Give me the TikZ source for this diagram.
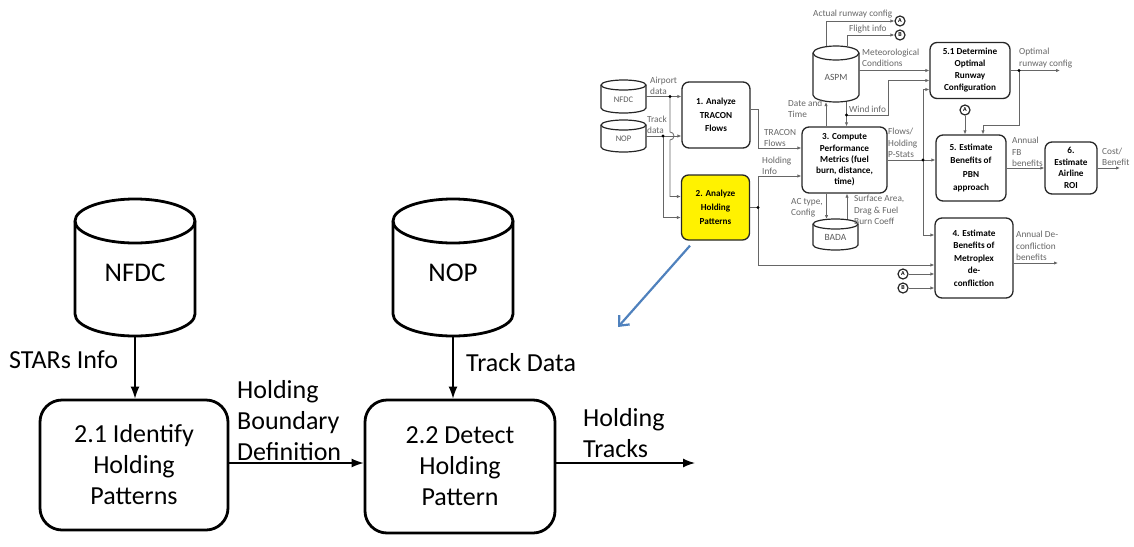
\documentclass[tikz,border=0pt]{standalone}
\usepackage{fontspec}
\setmainfont{Carlito}
\usetikzlibrary{arrows.meta}
\definecolor{officeblue}{HTML}{4F81BD}
\newcommand\cylpath[4][]{%
  \draw[#1] ([yshift=-#4]#2.north west) -- ([yshift=#4]#2.south west)
    arc[start angle=180,end angle=360,x radius=#3,y radius=#4]
    -- ([yshift=-#4]#2.north east)
    arc[start angle=0,end angle=180,x radius=#3,y radius=#4] -- cycle;
  \draw[#1] ([yshift=-#4]#2.north west)
    arc[start angle=180,end angle=360,x radius=#3,y radius=#4];}
\begin{document}
\begin{tikzpicture}[x=1pt,y=-1pt,
  bigbox/.style={draw, line width=2.8pt, rounded corners=22pt, inner sep=0, align=center, font=\fontsize{26}{31}\selectfont},
  bigcyl/.style={inner sep=0, outer sep=0, minimum width=120pt, minimum height=137pt},
  bigarr/.style={line width=1.4pt, -{Latex[length=12pt,width=9pt]}},
  biglab/.style={inner sep=0, align=left, font=\fontsize{26}{31}\selectfont},
  sbox/.style={draw=black!85, line width=1.3pt, rounded corners=7pt, inner sep=0, align=center},
  sbf/.style={font=\fontsize{9.2}{#1}\selectfont\bfseries},
  scyl/.style={inner sep=0, outer sep=0},
  sarr/.style={draw=black!60, line width=0.8pt, -{Latex[length=4pt,width=3.4pt]}},
  sline/.style={draw=black!60, line width=0.8pt},
  slab/.style={inner sep=0, align=left, text=black!60, font=\fontsize{9.3}{11.5}\selectfont},
  sdot/.style={fill=black},
  scirc/.style={circle, draw=black!85, line width=1.2pt, inner sep=0, minimum size=10pt, font=\fontsize{6}{6}\selectfont\bfseries},
]
\useasboundingbox (0,0) rectangle (1134,546);

% ---------- big diagram ----------
\node[bigcyl, label={[font=\fontsize{27}{30}\selectfont, yshift=-5pt]center:NFDC}] (nfdc) at (135,267.5) {};
\node[bigcyl, label={[font=\fontsize{27}{30}\selectfont, yshift=-5pt]center:NOP}] (nop) at (453,267.5) {};
\cylpath[line width=2.8pt, line join=round]{nfdc}{60pt}{22pt}
\cylpath[line width=2.8pt, line join=round]{nop}{60pt}{22pt}

\node[bigbox, minimum width=188pt, minimum height=130pt] (b21) at (134,465) {2.1 Identify\\Holding\\Patterns};
\node[bigbox, minimum width=190pt, minimum height=133pt] (b22) at (460,466.5) {2.2 Detect\\Holding\\Pattern};

\draw[bigarr] (nfdc.south) -- (nfdc.south |- b21.north);
\draw[bigarr] (nop.south) -- (nop.south |- b22.north);
\draw[bigarr] ([yshift=2pt]b21.east) -- ([yshift=2pt]b21.east -| b22.west);
\coordinate (bigout) at (695,463);
\draw[bigarr] (b22.east |- bigout) -- (bigout);

\node[biglab, anchor=west] (lstars) at (9,360) {STARs Info};
\node[biglab, anchor=west] (ltrack) at (466,363) {Track Data};
\node[biglab, anchor=west] (lhbd) at (237,421) {Holding\\Boundary\\Definition};
\node[biglab, anchor=west] (lht) at (583,433) {Holding\\Tracks};

% ---------- small diagram ----------
\node[scyl, minimum width=45pt, minimum height=33pt, label={[font=\fontsize{8.5}{9}\selectfont, text=black!65, yshift=-3pt]center:NFDC}] (snfdc) at (623.5,96.5) {};
\node[scyl, minimum width=45pt, minimum height=32pt, label={[font=\fontsize{8.5}{9}\selectfont, text=black!65, yshift=-3pt]center:NOP}] (snop) at (623.5,136) {};
\node[scyl, minimum width=46pt, minimum height=56pt, label={[font=\fontsize{9.5}{10}\selectfont, text=black!65, yshift=-3pt]center:ASPM}] (aspm) at (836,74) {};
\node[scyl, minimum width=45pt, minimum height=31pt, label={[font=\fontsize{9.5}{10}\selectfont, text=black!65, yshift=-3pt]center:BADA}] (bada) at (835.5,234.5) {};
\cylpath[draw=black!85, line width=1.2pt, line join=round]{snfdc}{22.5pt}{5pt}
\cylpath[draw=black!85, line width=1.2pt, line join=round]{snop}{22.5pt}{5pt}
\cylpath[draw=black!85, line width=1.2pt, line join=round]{aspm}{23pt}{7pt}
\cylpath[draw=black!85, line width=1.2pt, line join=round]{bada}{22.5pt}{5pt}

\node[sbox, sbf=13.5, minimum width=68pt, minimum height=66pt] (b1) at (716,115) {1. Analyze\\TRACON\\Flows};
\node[sbox, sbf=14, fill=yellow, minimum width=68pt, minimum height=65pt] (b2) at (715.5,207.5) {2. Analyze\\Holding\\Patterns};
\node[sbox, sbf=11.2, minimum width=85pt, minimum height=66pt] (b3) at (844.5,160) {3. Compute\\Performance\\Metrics (fuel\\burn, distance,\\time)};
\node[sbox, sbf=12, minimum width=80pt, minimum height=56pt] (b51) at (970,70.5) {5.1 Determine\\Optimal\\Runway\\Configuration};
\node[sbox, sbf=13.5, minimum width=70pt, minimum height=66pt] (b5) at (971,168) {5. Estimate\\Benefits of\\PBN\\approach};
\node[sbox, sbf=11.5, minimum width=52pt, minimum height=52pt] (b6) at (1071,168) {6.\\Estimate\\Airline\\ROI};
\node[sbox, sbf=12.5, minimum width=78pt, minimum height=80pt] (b4) at (974,258) {4. Estimate\\Benefits of\\Metroplex\\de-\\confliction};

\node[scirc] (cA1) at (900,21) {A};
\node[scirc] (cB1) at (900,35) {B};
\node[scirc] (cA3) at (965,110) {A};
\node[scirc] (cA2) at (903,274) {A};
\node[scirc] (cB2) at (903,288) {B};

% inputs to box 1 and box 2
\coordinate (d1) at (670,96.5);
\coordinate (d2) at (663,136);
\draw[sarr] (snfdc.east) -- (snfdc.east -| b1.west);
\draw[sarr] (snop.east) -- (snop.east -| b1.west);
\draw[sarr] (d1) -- (670,132) arc[start angle=90,end angle=-90,radius=4pt] |- ([yshift=11pt]b2.west);
\draw[sarr] (d2) |- ([yshift=-10pt]b2.west);

% box 1 -> box 3
\draw[sarr] ([yshift=6pt]b1.east) -- (758,109) |- ([yshift=12pt]b3.west);
% box 2 -> box 3, box 4
\coordinate (d3) at (758,207.5);
\draw[sline] (b2.east) -- (d3);
\draw[sarr] (d3) |- ([yshift=-16pt]b3.west);
\draw[sarr] (d3) |- ([yshift=-7pt]b4.west);

% ASPM
\draw[sarr] ([xshift=-18.5pt]b3.north) -- ([xshift=-18.5pt]b3.north |- aspm.south);
\draw[sarr] ([xshift=2pt]b3.north |- aspm.south) -- ([xshift=2pt]b3.north);
\coordinate (d4) at (846.5,115);
\draw[sarr] (d4) -- (888,115) |- ([yshift=-10pt]b51.west);
\draw[sarr] (aspm.east |- b51.west) -- (b51.west);
\draw[sarr] ([xshift=-10pt]aspm.north) |- (cA1.west);
\draw[sarr] ([xshift=11pt]aspm.north) |- (cB1.west);

% BADA
\draw[sarr] ([xshift=-18pt]b3.south) -- ([xshift=-18pt]b3.south |- bada.north);
\draw[sarr] ([xshift=2.5pt]b3.south |- bada.north) -- ([xshift=2.5pt]b3.south);

% flows / holding p-stats
\coordinate (d5) at (923,160);
\draw[sarr] (b3.east) -- (b3.east -| b5.west);
\draw[sarr] (d5) |- ([yshift=-19pt]b51.west);
\draw[sarr] (d5) |- ([yshift=23pt]b4.west);

% box 4 circles
\draw[sarr] (cA2.east) -- (cA2.east -| b4.west);
\draw[sarr] (cB2.east) -- (cB2.east -| b4.west);

% box 5 inputs
\draw[sarr] (cA3.south) -- (cA3.south |- b5.north);
\coordinate (d6) at (1019,70.5);
\coordinate (o51) at (1060,70.5);
\draw[sarr] (b51.east) -- (o51);
\draw[sarr] (d6) -- (1019,125) -| ([xshift=12pt]b5.north);

% box 5 -> 6 and outputs
\draw[sarr] (b5.east) -- (b6.west);
\coordinate (o6) at (1120,168);
\draw[sarr] (b6.east) -- (o6);
\coordinate (o4) at (1058,263);
\draw[sarr] ([yshift=-5pt]b4.east) -- (o4);

% dots
\foreach \d in {d1,d2,d3,d4,d5,d6} \fill[sdot] (\d) circle (1.7pt);

% small labels
\node[slab, anchor=south west] at (650,95) {Airport\\data};
\node[slab, anchor=south west] at (647,134) {Track\\data};
\node[slab, anchor=south west] at (764,147) {TRACON\\Flows};
\node[slab, anchor=south west] at (762,175) {Holding\\Info};
\node[slab, anchor=south west] at (788,118) {Date and\\Time};
\node[slab, anchor=south west] at (849,113) {Wind info};
\node[slab, anchor=south west] at (862,67) {Meteorological\\Conditions};
\node[slab, anchor=south west] at (813,18) {Actual runway config};
\node[slab, anchor=south west] at (849,33) {Flight info};
\node[slab, anchor=south west] at (888,158) {Flows/\\Holding\\P-Stats};
\node[slab, anchor=north west] at (791,198) {AC type,\\Config};
\node[slab, anchor=north west] at (854,195) {Surface Area,\\Drag \& Fuel\\Burn Coeff};
\node[slab, anchor=south west] at (1019,68) {Optimal\\runway config};
\node[slab, anchor=south west] at (1012,167) {Annual\\FB\\benefits};
\node[slab, anchor=south west] at (1102,166) {Cost/\\Benefit};
\node[slab, anchor=south west] at (1016,261) {Annual De-\\confliction\\benefits};

% blue pointer arrow
\coordinate (bstart) at ([xshift=-25.5pt,yshift=-5pt]b2.south);
\coordinate (bend) at (618,327);
\draw[officeblue, line width=2.2pt, -{Straight Barb[length=8pt,width=14pt]}] (bstart) -- (bend);
\end{tikzpicture}
\end{document}
